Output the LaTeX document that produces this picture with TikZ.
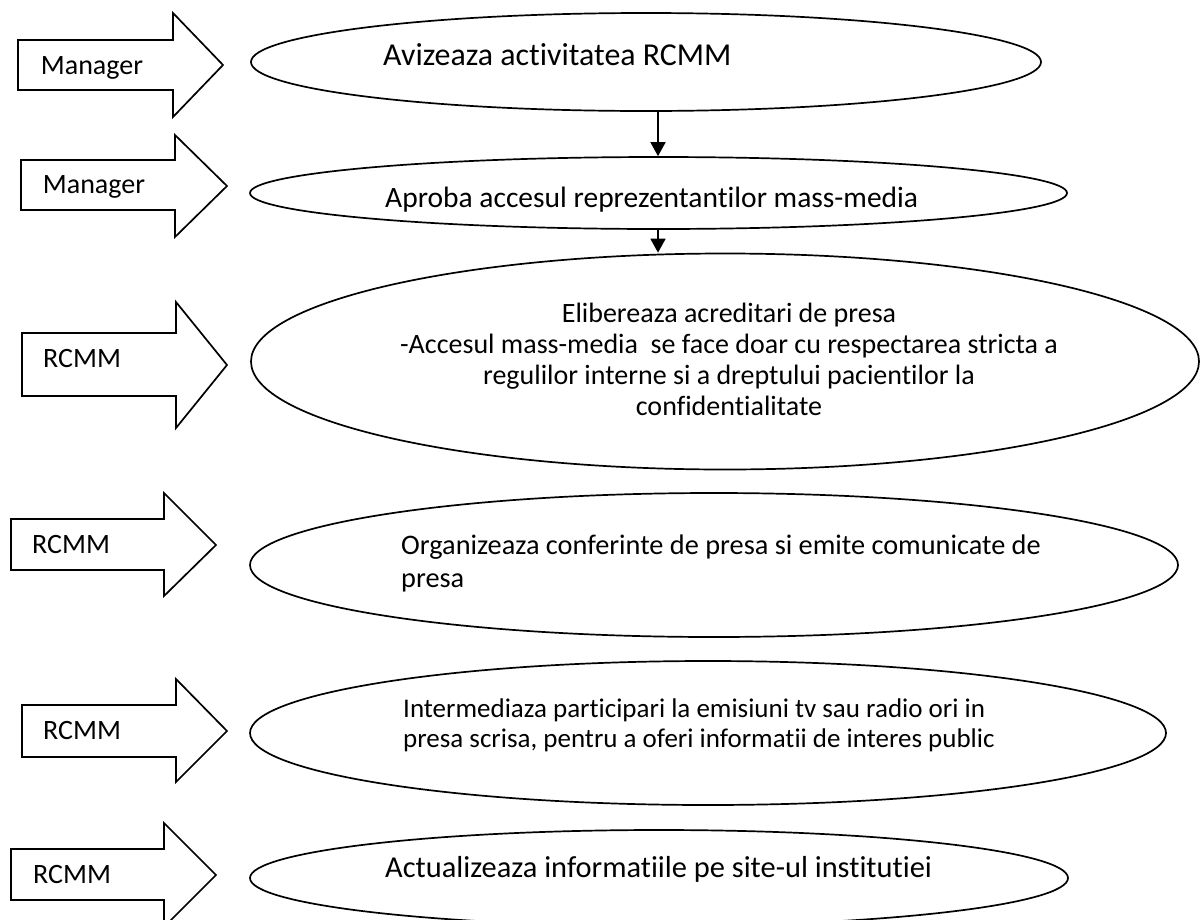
\documentclass[tikz,border=0pt]{standalone}
\usepackage{fontspec}
\setmainfont{Carlito}[Ligatures={NoCommon}]
\usetikzlibrary{shapes.geometric,arrows.meta}
\begin{document}
\begin{tikzpicture}[x=1pt,y=-1pt,
  blockarrow/.style={draw=black,line width=1.7pt,line join=miter,fill=white},
  oval/.style={draw=black,ellipse,line width=1.7pt,inner sep=0pt},
  lbl/.style={inner sep=0pt,anchor=base west,font=\fontsize{28}{34}\selectfont},
  txt/.style={inner sep=0pt,anchor=base west},
  conn/.style={line width=1.7pt,-{Triangle[width=15pt,length=14pt]}}]
\useasboundingbox (0,0) rectangle (1200,919);
\clip (0,0) rectangle (1200,919);

% block arrows (actors)
\draw[blockarrow] (18,40) -- (173,40) -- (173,13) -- (223,65) -- (173,117) -- (173,90) -- (18,90) -- cycle;
\draw[blockarrow] (21,160) -- (175,160) -- (175,135) -- (227,186) -- (175,237) -- (175,210) -- (21,210) -- cycle;
\draw[blockarrow] (22,333) -- (176,333) -- (176,302) -- (227,365) -- (176,428) -- (176,396) -- (22,396) -- cycle;
\draw[blockarrow] (11,519) -- (164,519) -- (164,493) -- (216,545) -- (164,596) -- (164,570) -- (11,570) -- cycle;
\draw[blockarrow] (22,705) -- (176,705) -- (176,679) -- (227,731) -- (176,782) -- (176,757) -- (22,757) -- cycle;
\draw[blockarrow] (11,849) -- (164,849) -- (164,823) -- (216,875) -- (164,927) -- (164,900) -- (11,900) -- cycle;

\node[lbl] (l1) at (40.7,74) {Manager};
\node[lbl] (l2) at (42.7,193) {Manager};
\node[lbl] (l3) at (43,367) {RCMM};
\node[lbl] (l4) at (32,553) {RCMM};
\node[lbl] (l5) at (43,739) {RCMM};
\node[lbl] (l6) at (33,883) {RCMM};

% ellipses
\node[oval,minimum width=790pt,minimum height=98pt] (e1) at (646,62) {};
\node[oval,minimum width=817pt,minimum height=72pt] (e2) at (658.5,193) {};
\node[oval,minimum width=948pt,minimum height=216pt] (e3) at (725,361.5) {};
\node[oval,minimum width=928pt,minimum height=144pt] (e4) at (714,565) {};
\node[oval,minimum width=916pt,minimum height=144pt] (e5) at (708,733) {};
\node[oval,minimum width=818pt,minimum height=96pt] (e6) at (659,878) {};

% texts
\node[txt,font=\fontsize{31.9}{38}\selectfont] (t1) at (383,65) {Avizeaza activitatea RCMM};
\node[txt,font=\fontsize{29.5}{36}\selectfont] (t2) at (385,207) {Aproba accesul reprezentantilor mass-media};
\node[inner sep=0pt,anchor=base,font=\fontsize{28}{31}\selectfont] (t3) at (729,322)
  {\begin{tabular}[t]{@{}c@{}}Elibereaza acreditari de presa\\
   -Accesul mass-media~ se face doar cu respectarea stricta a\\
   regulilor interne si a dreptului pacientilor la\\
   confidentialitate\end{tabular}};
\node[txt,font=\fontsize{28.3}{33}\selectfont] (t4) at (401,554)
  {\begin{tabular}[t]{@{}l@{}}Organizeaza conferinte de presa si emite comunicate de\\ presa\end{tabular}};
\node[txt,font=\fontsize{27}{30}\selectfont] (t5) at (403,717)
  {\begin{tabular}[t]{@{}l@{}}Intermediaza participari la emisiuni tv sau radio ori in\\ presa scrisa, pentru a oferi informatii de interes public\end{tabular}};
\node[txt,font=\fontsize{30.4}{36}\selectfont] (t6) at (385,877) {Actualizeaza informatiile pe site-ul institutiei};

% connectors
\coordinate (cx) at (658,0);
\draw[conn] (e1.south -| cx) -- (e2.north -| cx);
\draw[conn] (e2.south -| cx) -- (e3.north -| cx);
\end{tikzpicture}
\end{document}
